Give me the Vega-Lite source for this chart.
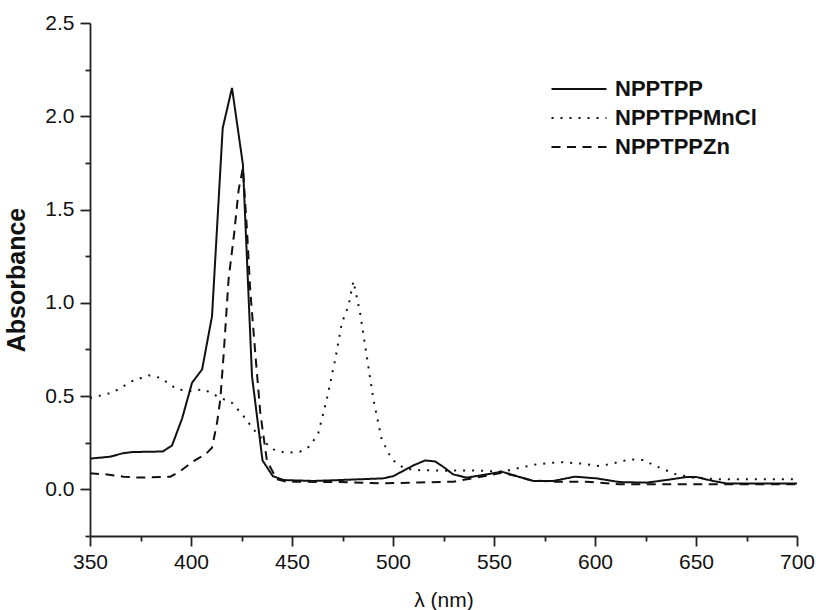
{
  "$schema": "https://vega.github.io/schema/vega-lite/v6.json",
  "autosize": {"type": "none"},
  "width": 707,
  "height": 513,
  "padding": {"left": 90, "top": 23, "right": 19, "bottom": 74},
  "background": "white",
  "config": {
    "view": {"stroke": null},
    "font": "Liberation Sans",
    "axis": {
      "grid": false,
      "domainColor": "#222",
      "domainWidth": 1.8,
      "tickColor": "#222",
      "tickWidth": 1.8,
      "labelFont": "Liberation Sans",
      "labelFontSize": 21,
      "labelColor": "#111",
      "labelFlush": false,
      "labelOverlap": false,
      "titleFont": "Liberation Sans",
      "titleColor": "#111"
    }
  },
  "data": {
    "values": [
      {"series": "NPPTPP", "wl": 350, "abs": 0.165},
      {"series": "NPPTPP", "wl": 360, "abs": 0.175},
      {"series": "NPPTPP", "wl": 366, "abs": 0.193},
      {"series": "NPPTPP", "wl": 371, "abs": 0.2},
      {"series": "NPPTPP", "wl": 386, "abs": 0.203},
      {"series": "NPPTPP", "wl": 390.6, "abs": 0.235},
      {"series": "NPPTPP", "wl": 395.6, "abs": 0.38},
      {"series": "NPPTPP", "wl": 400.5, "abs": 0.571},
      {"series": "NPPTPP", "wl": 405.5, "abs": 0.643},
      {"series": "NPPTPP", "wl": 410.4, "abs": 0.928},
      {"series": "NPPTPP", "wl": 415.7, "abs": 1.937},
      {"series": "NPPTPP", "wl": 420.3, "abs": 2.152},
      {"series": "NPPTPP", "wl": 425.7, "abs": 1.741},
      {"series": "NPPTPP", "wl": 430.2, "abs": 0.607},
      {"series": "NPPTPP", "wl": 435.4, "abs": 0.155},
      {"series": "NPPTPP", "wl": 440.5, "abs": 0.071},
      {"series": "NPPTPP", "wl": 445.8, "abs": 0.05},
      {"series": "NPPTPP", "wl": 460.6, "abs": 0.045},
      {"series": "NPPTPP", "wl": 473.8, "abs": 0.05},
      {"series": "NPPTPP", "wl": 495.2, "abs": 0.059},
      {"series": "NPPTPP", "wl": 500.2, "abs": 0.071},
      {"series": "NPPTPP", "wl": 510, "abs": 0.128},
      {"series": "NPPTPP", "wl": 515.9, "abs": 0.155},
      {"series": "NPPTPP", "wl": 520.8, "abs": 0.15},
      {"series": "NPPTPP", "wl": 525, "abs": 0.12},
      {"series": "NPPTPP", "wl": 529.8, "abs": 0.08},
      {"series": "NPPTPP", "wl": 536.5, "abs": 0.063},
      {"series": "NPPTPP", "wl": 546.3, "abs": 0.08},
      {"series": "NPPTPP", "wl": 553.8, "abs": 0.095},
      {"series": "NPPTPP", "wl": 561.2, "abs": 0.071},
      {"series": "NPPTPP", "wl": 569.4, "abs": 0.045},
      {"series": "NPPTPP", "wl": 579.3, "abs": 0.045},
      {"series": "NPPTPP", "wl": 590, "abs": 0.068},
      {"series": "NPPTPP", "wl": 600.7, "abs": 0.059},
      {"series": "NPPTPP", "wl": 612.2, "abs": 0.039},
      {"series": "NPPTPP", "wl": 625.4, "abs": 0.036},
      {"series": "NPPTPP", "wl": 635.3, "abs": 0.05},
      {"series": "NPPTPP", "wl": 645.2, "abs": 0.066},
      {"series": "NPPTPP", "wl": 650.2, "abs": 0.066},
      {"series": "NPPTPP", "wl": 658.4, "abs": 0.045},
      {"series": "NPPTPP", "wl": 665, "abs": 0.032},
      {"series": "NPPTPP", "wl": 700, "abs": 0.032},

      {"series": "NPPTPPMnCl", "wl": 350, "abs": 0.49},
      {"series": "NPPTPPMnCl", "wl": 361, "abs": 0.518},
      {"series": "NPPTPPMnCl", "wl": 370.9, "abs": 0.58},
      {"series": "NPPTPPMnCl", "wl": 379, "abs": 0.611},
      {"series": "NPPTPPMnCl", "wl": 384.9, "abs": 0.598},
      {"series": "NPPTPPMnCl", "wl": 393.1, "abs": 0.536},
      {"series": "NPPTPPMnCl", "wl": 399.7, "abs": 0.527},
      {"series": "NPPTPPMnCl", "wl": 406.3, "abs": 0.536},
      {"series": "NPPTPPMnCl", "wl": 414.5, "abs": 0.491},
      {"series": "NPPTPPMnCl", "wl": 420.3, "abs": 0.464},
      {"series": "NPPTPPMnCl", "wl": 426, "abs": 0.393},
      {"series": "NPPTPPMnCl", "wl": 431, "abs": 0.321},
      {"series": "NPPTPPMnCl", "wl": 436.8, "abs": 0.25},
      {"series": "NPPTPPMnCl", "wl": 440.9, "abs": 0.214},
      {"series": "NPPTPPMnCl", "wl": 446.6, "abs": 0.196},
      {"series": "NPPTPPMnCl", "wl": 454, "abs": 0.202},
      {"series": "NPPTPPMnCl", "wl": 459, "abs": 0.232},
      {"series": "NPPTPPMnCl", "wl": 463.1, "abs": 0.304},
      {"series": "NPPTPPMnCl", "wl": 467.2, "abs": 0.482},
      {"series": "NPPTPPMnCl", "wl": 471.4, "abs": 0.696},
      {"series": "NPPTPPMnCl", "wl": 474.7, "abs": 0.893},
      {"series": "NPPTPPMnCl", "wl": 477.9, "abs": 0.982},
      {"series": "NPPTPPMnCl", "wl": 480.4, "abs": 1.116},
      {"series": "NPPTPPMnCl", "wl": 483.7, "abs": 0.946},
      {"series": "NPPTPPMnCl", "wl": 487, "abs": 0.714},
      {"series": "NPPTPPMnCl", "wl": 490.3, "abs": 0.482},
      {"series": "NPPTPPMnCl", "wl": 494.4, "abs": 0.268},
      {"series": "NPPTPPMnCl", "wl": 499.4, "abs": 0.161},
      {"series": "NPPTPPMnCl", "wl": 505.1, "abs": 0.116},
      {"series": "NPPTPPMnCl", "wl": 510, "abs": 0.104},
      {"series": "NPPTPPMnCl", "wl": 525, "abs": 0.1},
      {"series": "NPPTPPMnCl", "wl": 538.1, "abs": 0.102},
      {"series": "NPPTPPMnCl", "wl": 554.6, "abs": 0.095},
      {"series": "NPPTPPMnCl", "wl": 562.8, "abs": 0.116},
      {"series": "NPPTPPMnCl", "wl": 571, "abs": 0.134},
      {"series": "NPPTPPMnCl", "wl": 582.6, "abs": 0.146},
      {"series": "NPPTPPMnCl", "wl": 592.5, "abs": 0.139},
      {"series": "NPPTPPMnCl", "wl": 602.4, "abs": 0.125},
      {"series": "NPPTPPMnCl", "wl": 609, "abs": 0.139},
      {"series": "NPPTPPMnCl", "wl": 617.2, "abs": 0.161},
      {"series": "NPPTPPMnCl", "wl": 623.8, "abs": 0.157},
      {"series": "NPPTPPMnCl", "wl": 632, "abs": 0.116},
      {"series": "NPPTPPMnCl", "wl": 640.3, "abs": 0.08},
      {"series": "NPPTPPMnCl", "wl": 648.5, "abs": 0.063},
      {"series": "NPPTPPMnCl", "wl": 661.7, "abs": 0.054},
      {"series": "NPPTPPMnCl", "wl": 700, "abs": 0.054},

      {"series": "NPPTPPZn", "wl": 350, "abs": 0.086},
      {"series": "NPPTPPZn", "wl": 358.5, "abs": 0.08},
      {"series": "NPPTPPZn", "wl": 366.7, "abs": 0.068},
      {"series": "NPPTPPZn", "wl": 375, "abs": 0.063},
      {"series": "NPPTPPZn", "wl": 389.8, "abs": 0.068},
      {"series": "NPPTPPZn", "wl": 394.7, "abs": 0.098},
      {"series": "NPPTPPZn", "wl": 401.3, "abs": 0.152},
      {"series": "NPPTPPZn", "wl": 407.1, "abs": 0.187},
      {"series": "NPPTPPZn", "wl": 410.4, "abs": 0.223},
      {"series": "NPPTPPZn", "wl": 412.9, "abs": 0.357},
      {"series": "NPPTPPZn", "wl": 414.5, "abs": 0.482},
      {"series": "NPPTPPZn", "wl": 416.1, "abs": 0.714},
      {"series": "NPPTPPZn", "wl": 418.6, "abs": 1.125},
      {"series": "NPPTPPZn", "wl": 421.4, "abs": 1.375},
      {"series": "NPPTPPZn", "wl": 423.6, "abs": 1.607},
      {"series": "NPPTPPZn", "wl": 425.7, "abs": 1.723},
      {"series": "NPPTPPZn", "wl": 427.7, "abs": 1.393},
      {"series": "NPPTPPZn", "wl": 429.3, "abs": 1.071},
      {"series": "NPPTPPZn", "wl": 431.8, "abs": 0.732},
      {"series": "NPPTPPZn", "wl": 434.3, "abs": 0.411},
      {"series": "NPPTPPZn", "wl": 436.8, "abs": 0.214},
      {"series": "NPPTPPZn", "wl": 437.6, "abs": 0.152},
      {"series": "NPPTPPZn", "wl": 442.5, "abs": 0.054},
      {"series": "NPPTPPZn", "wl": 447.5, "abs": 0.041},
      {"series": "NPPTPPZn", "wl": 473.8, "abs": 0.039},
      {"series": "NPPTPPZn", "wl": 493.6, "abs": 0.032},
      {"series": "NPPTPPZn", "wl": 513.4, "abs": 0.037},
      {"series": "NPPTPPZn", "wl": 529.8, "abs": 0.041},
      {"series": "NPPTPPZn", "wl": 541.4, "abs": 0.063},
      {"series": "NPPTPPZn", "wl": 553.8, "abs": 0.089},
      {"series": "NPPTPPZn", "wl": 561.2, "abs": 0.071},
      {"series": "NPPTPPZn", "wl": 567.8, "abs": 0.05},
      {"series": "NPPTPPZn", "wl": 579.3, "abs": 0.041},
      {"series": "NPPTPPZn", "wl": 595.8, "abs": 0.041},
      {"series": "NPPTPPZn", "wl": 612.2, "abs": 0.027},
      {"series": "NPPTPPZn", "wl": 661.7, "abs": 0.027},
      {"series": "NPPTPPZn", "wl": 700, "abs": 0.027}
    ]
  },
  "mark": {"type": "line", "strokeWidth": 2, "color": "#111", "clip": true},
  "encoding": {
    "x": {
      "field": "wl",
      "type": "quantitative",
      "scale": {"domain": [350, 700], "nice": false, "zero": false},
      "axis": {
        "title": "λ (nm)",
        "titleFontSize": 21,
        "titleFontWeight": "normal",
        "titleBaseline": "middle",
        "titleY": 64,
        "values": [350, 375, 400, 425, 450, 475, 500, 525, 550, 575, 600, 625, 650, 675, 700],
        "labelExpr": "datum.value % 50 === 0 ? datum.label : ''",
        "tickSize": {"condition": {"test": "datum.value % 50 === 0", "value": 10}, "value": 5},
        "labelPadding": 5,
        "format": "d"
      }
    },
    "y": {
      "field": "abs",
      "type": "quantitative",
      "scale": {"domain": [-0.25, 2.5], "nice": false, "zero": false},
      "axis": {
        "title": "Absorbance",
        "titleFontSize": 25,
        "titleFontWeight": "bold",
        "titleBaseline": "middle",
        "titleX": -74,
        "titleY": 256.5,
        "values": [-0.25, 0, 0.25, 0.5, 0.75, 1, 1.25, 1.5, 1.75, 2, 2.25, 2.5],
        "labelExpr": "datum.value % 0.5 === 0 ? datum.label : ''",
        "tickSize": {"condition": {"test": "datum.value % 0.5 === 0", "value": 10}, "value": 5},
        "labelPadding": 6,
        "format": ".1f"
      }
    },
    "strokeDash": {
      "field": "series",
      "type": "nominal",
      "scale": {
        "domain": ["NPPTPP", "NPPTPPMnCl", "NPPTPPZn"],
        "range": [[1, 0], [2, 7], [9, 6.5]]
      },
      "legend": {
        "title": null,
        "orient": "none",
        "legendX": 474,
        "legendY": 51,
        "padding": 0,
        "symbolType": "M-2,0H2",
        "symbolSize": 756,
        "symbolStrokeWidth": 2,
        "symbolStrokeColor": "#111",
        "symbolFillColor": "transparent",
        "labelFont": "Liberation Sans",
        "labelFontSize": 22,
        "labelFontWeight": "bold",
        "labelColor": "#111",
        "labelOffset": 21,
        "rowPadding": 3
      }
    }
  }
}
